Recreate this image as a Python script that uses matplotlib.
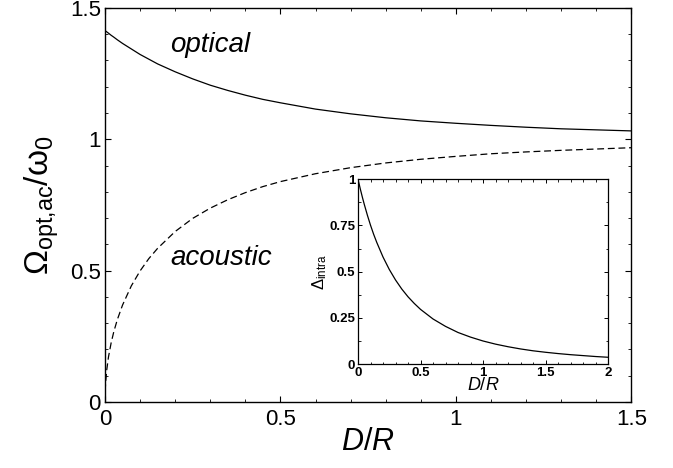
import matplotlib
matplotlib.use("Agg")
import matplotlib.pyplot as plt
from matplotlib.ticker import MultipleLocator

plt.rcParams["font.family"] = ["Liberation Sans", "DejaVu Sans"]
plt.rcParams["mathtext.fontset"] = "custom"
plt.rcParams["mathtext.rm"] = "Liberation Sans"
plt.rcParams["mathtext.it"] = "Liberation Sans:italic"

# values
dr = [0.0, 0.0005, 0.001, 0.002, 0.005, 0.01, 0.0175, 0.025, 0.035, 0.05,
      0.075, 0.1, 0.125, 0.15, 0.2, 0.25, 0.3, 0.35, 0.4, 0.45,
      0.5, 0.6, 0.7, 0.8, 0.9, 1.0, 1.1, 1.2, 1.3, 1.4, 1.5]
optical = [1.414, 1.414, 1.413, 1.412, 1.409, 1.404, 1.396, 1.389, 1.379,
           1.365, 1.344, 1.323, 1.305, 1.287, 1.257, 1.230, 1.206, 1.186,
           1.168, 1.152, 1.139, 1.115, 1.097, 1.082, 1.070, 1.061,
           1.053, 1.046, 1.040, 1.036, 1.032]
acoustic = [0.0, 0.039, 0.055, 0.077, 0.122, 0.172, 0.225, 0.267, 0.313,
            0.369, 0.442, 0.499, 0.546, 0.585, 0.649, 0.699, 0.738, 0.770,
            0.797, 0.820, 0.839, 0.869, 0.892, 0.910, 0.924, 0.935,
            0.945, 0.952, 0.958, 0.963, 0.968]

dr_inset = [0.0, 0.005, 0.01, 0.0175, 0.025, 0.035, 0.05, 0.075, 0.1, 0.125,
            0.15, 0.2, 0.25, 0.3, 0.35, 0.4, 0.45, 0.5, 0.6, 0.7, 0.8, 0.9,
            1.0, 1.1, 1.2, 1.3, 1.4, 1.5, 1.6, 1.7, 1.8, 1.9, 2.0]
delta_intra = [1.0, 0.985, 0.971, 0.949, 0.929, 0.902, 0.864, 0.805, 0.751,
               0.702, 0.658, 0.579, 0.512, 0.455, 0.406, 0.364, 0.328,
               0.296, 0.244, 0.204, 0.171, 0.146, 0.125, 0.108, 0.094,
               0.082, 0.072, 0.064, 0.057, 0.051, 0.046, 0.041, 0.037]

main_xticks = [0, 0.5, 1, 1.5]
main_xlabels = ["0", "0.5", "1", "1.5"]
main_yticks = [0, 0.5, 1, 1.5]
main_ylabels = ["0", "0.5", "1", "1.5"]
inset_xticks = [0, 0.5, 1, 1.5, 2]
inset_xlabels = ["0", "0.5", "1", "1.5", "2"]
inset_yticks = [0, 0.25, 0.5, 0.75, 1]
inset_ylabels = ["0", "0.25", "0.5", "0.75", "1"]

fig = plt.figure(figsize=(6.73, 4.68), dpi=100)

ax = fig.add_axes([0.156, 0.141, 0.782, 0.842])
ax.plot(dr, optical, color="k", lw=0.9)
ax.plot(dr, acoustic, color="k", lw=0.9, dashes=(5.5, 3))
ax.set_xlim(0, 1.5)
ax.set_ylim(0, 1.5)
ax.set_xticks(main_xticks, main_xlabels)
ax.set_yticks(main_yticks, main_ylabels)
ax.xaxis.set_minor_locator(MultipleLocator(0.1))
ax.yaxis.set_minor_locator(MultipleLocator(0.1))
ax.tick_params(which="both", direction="in", top=True, right=True, labelsize=16)
ax.tick_params(which="major", length=4, width=0.8)
ax.tick_params(which="minor", length=2.2, width=0.6)
ax.tick_params(axis="x", pad=5)
ax.tick_params(axis="y", pad=3)
for s in ax.spines.values():
    s.set_linewidth(1.0)
ax.set_xlabel("$\\mathit{D/R}$", fontsize=22, labelpad=-2)
ax.set_ylabel("$\\mathrm{\\Omega_{opt{,}ac}/\\omega_0}$", fontsize=24, labelpad=6)
ax.text(0.185, 1.36, "optical", fontsize=20, style="italic", ha="left", va="center")
ax.text(0.185, 0.55, "acoustic", fontsize=20, style="italic", ha="left", va="center")

ins = fig.add_axes([0.532, 0.222, 0.3715, 0.395])
ins.plot(dr_inset, delta_intra, color="k", lw=0.9)
ins.set_xlim(0, 2)
ins.set_ylim(0, 1)
ins.set_xticks(inset_xticks, inset_xlabels)
ins.set_yticks(inset_yticks, inset_ylabels)
ins.xaxis.set_minor_locator(MultipleLocator(0.1))
ins.yaxis.set_minor_locator(MultipleLocator(0.125))
ins.tick_params(which="both", direction="in", top=True, right=True, labelsize=9.5)
ins.tick_params(which="major", length=3, width=0.7, pad=2)
ins.tick_params(which="minor", length=1.8, width=0.6)
for lab in ins.get_xticklabels() + ins.get_yticklabels():
    lab.set_fontweight("bold")
for s in ins.spines.values():
    s.set_linewidth(0.9)
ins.set_xlabel("$\\mathit{D/R}$", fontsize=13, labelpad=-1)
ins.set_ylabel("$\\mathrm{\\Delta_{intra}}$", fontsize=12, labelpad=0)

fig.savefig("out.png", dpi=100)
